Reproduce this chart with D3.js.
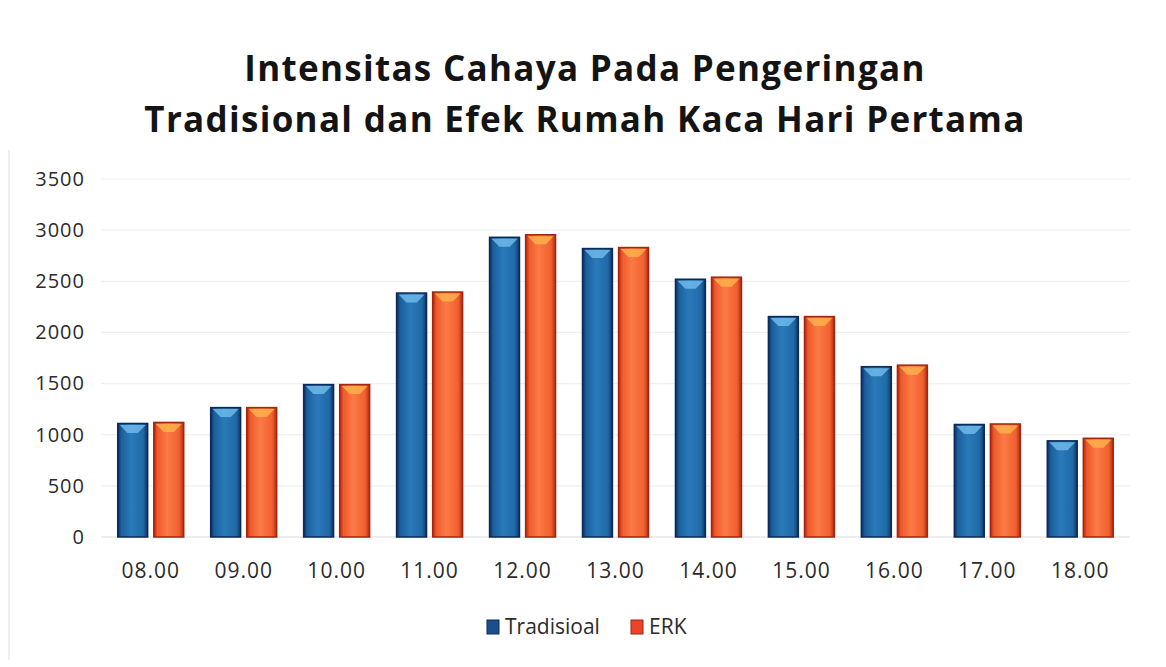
<!DOCTYPE html>
<html><head><meta charset="utf-8">
<script src="https://cdn.jsdelivr.net/npm/d3@7"></script>
<style>body{margin:0;background:#fff;} svg{display:block;}</style>
</head><body>
<svg id="c" width="1166" height="667"></svg>
<script>
const categories = ["08.00","09.00","10.00","11.00","12.00","13.00","14.00","15.00","16.00","17.00","18.00"];
const tradisional = [1110, 1265, 1490, 2385, 2930, 2820, 2520, 2155, 1665, 1100, 940];
const erk = [1120, 1265, 1490, 2395, 2955, 2830, 2540, 2155, 1680, 1105, 965];
const seriesNames = ["Tradisioal", "ERK"];
const yTicks = [0, 500, 1000, 1500, 2000, 2500, 3000, 3500];
const titleLines = ["Intensitas Cahaya Pada Pengeringan", "Tradisional dan Efek Rumah Kaca Hari Pertama"];

const svg = d3.select("#c");
const font = "'Open Sans', 'Noto Sans', sans-serif";
const m = {left: 101, right: 1130, top: 179, bottom: 537};

const defs = svg.append("defs");
function grad(id, stops){
  const g = defs.append("linearGradient").attr("id", id).attr("x1","0%").attr("x2","100%").attr("y1","0%").attr("y2","0%");
  stops.forEach(s => g.append("stop").attr("offset", s[0]).attr("stop-color", s[1]));
}
grad("gBlue", [["0%","#0d2f63"],["12%","#1b5f9c"],["45%","#2a7aba"],["85%","#2069a6"],["100%","#0f3467"]]);
grad("gOrange", [["0%","#b5260f"],["12%","#ee5a2c"],["45%","#fb7a45"],["85%","#f0612f"],["100%","#b52a10"]]);
const fills = ["url(#gBlue)", "url(#gOrange)"];
const strokes = ["#0b2a57", "#a62410"];
const capColors = ["#6fb8ea", "#ffb04a"];
const legendColors = ["#1a4f8c", "#e8452a"];

// faint left border line (photo edge)
svg.append("line").attr("x1", 9).attr("x2", 9).attr("y1", 150).attr("y2", 660).attr("stroke", "#e6e9ec").attr("stroke-width", 1.5);

const x0 = d3.scaleBand().domain(categories).range([m.left, m.right]).paddingInner(0.29).paddingOuter(0.18);
const x1 = d3.scaleBand().domain([0,1]).range([0, x0.bandwidth()]).paddingInner(0.17);
const y = d3.scaleLinear().domain([0, 3500]).range([m.bottom, m.top]);

// gridlines
svg.append("g").selectAll("line").data(yTicks).join("line")
  .attr("x1", m.left).attr("x2", m.right)
  .attr("y1", d => y(d)).attr("y2", d => y(d))
  .attr("stroke", d => d === 0 ? "#d8dbdf" : "#eef0f2").attr("stroke-width", 1.2);

// y axis
const yAxis = svg.append("g").attr("transform", `translate(${m.left - 16},0)`)
  .call(d3.axisLeft(y).tickValues(yTicks).tickFormat(d3.format("d")).tickSize(0).tickPadding(0));
yAxis.select(".domain").remove();
yAxis.selectAll("text").attr("font-family", font).attr("font-size", 20).attr("letter-spacing", "1px").attr("fill", "#2b2b2b");

// x axis
const xAxis = svg.append("g").attr("transform", `translate(0,${m.bottom + 20})`)
  .call(d3.axisBottom(x0).tickSize(0).tickPadding(6));
xAxis.select(".domain").remove();
xAxis.selectAll("text").attr("font-family", font).attr("font-size", 21).attr("letter-spacing", "1px").attr("fill", "#2b2b2b");

// bars
const data = categories.map((c, i) => ({c, v: [tradisional[i], erk[i]]}));
const groups = svg.append("g").selectAll("g").data(data).join("g")
  .attr("transform", d => `translate(${x0(d.c)},0)`);
groups.selectAll("rect.bar").data(d => d.v.map((v, s) => ({v, s}))).join("rect").attr("class","bar")
  .attr("x", d => x1(d.s)).attr("width", x1.bandwidth())
  .attr("y", d => y(d.v)).attr("height", d => y(0) - y(d.v))
  .attr("fill", d => fills[d.s]).attr("stroke", d => strokes[d.s]).attr("stroke-width", 1.5);
// cap highlight (bevel)
groups.selectAll("path.cap").data(d => d.v.map((v, s) => ({v, s}))).join("path").attr("class","cap")
  .attr("d", d => {
    const xl = x1(d.s) + 2, xr = x1(d.s) + x1.bandwidth() - 2, yt = y(d.v) + 1.5, w = xr - xl;
    return `M${xl},${yt} L${xr},${yt} L${xr - w*0.3},${yt + 8} L${xl + w*0.3},${yt + 8} Z`;
  })
  .attr("fill", d => capColors[d.s]).attr("opacity", 0.85);

// title
svg.append("g").selectAll("text").data(titleLines).join("text")
  .attr("x", 585).attr("y", (d, i) => 81 + i * 51)
  .attr("text-anchor", "middle").attr("font-family", font).attr("font-weight", "bold")
  .attr("font-size", 35).attr("letter-spacing", "1.3px").attr("fill", "#141414").text(d => d);

// legend
const lg = svg.append("g").attr("transform", "translate(487,630)");
const items = [{n: seriesNames[0], x: 0}, {n: seriesNames[1], x: 144}];
items.forEach((it, i) => {
  lg.append("rect").attr("x", it.x).attr("y", -10).attr("width", 12).attr("height", 14)
    .attr("fill", legendColors[i]).attr("stroke", strokes[i]).attr("stroke-width", 1);
  lg.append("text").attr("x", it.x + 18).attr("y", 4).attr("font-family", font)
    .attr("font-size", 21).attr("fill", "#2b2b2b").text(it.n);
});
</script>
</body></html>
